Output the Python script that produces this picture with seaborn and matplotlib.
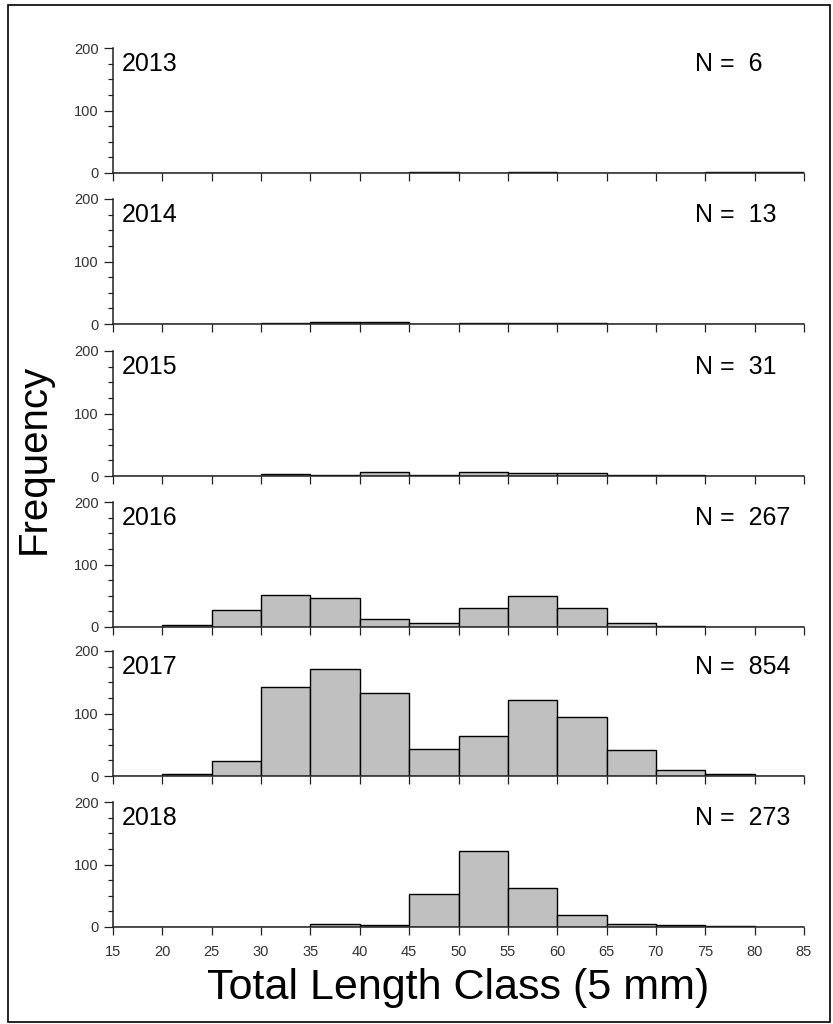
import matplotlib
matplotlib.use("Agg")
import pandas as pd
import matplotlib.pyplot as plt
import seaborn as sns
from matplotlib.patches import Rectangle
from matplotlib.ticker import MultipleLocator

# --------------------------
# Data
# --------------------------
years = [2013, 2014, 2015, 2016, 2017, 2018]
sample_sizes = [6, 13, 31, 267, 854, 273]
bin_starts = [15, 20, 25, 30, 35, 40, 45, 50, 55, 60, 65, 70, 75, 80]
counts_2013 = [0, 0, 0, 0, 0, 0, 1, 0, 2, 0, 0, 0, 2, 1]
counts_2014 = [0, 0, 0, 1, 4, 4, 0, 2, 1, 1, 0, 0, 0, 0]
counts_2015 = [0, 0, 0, 3, 1, 6, 2, 7, 5, 5, 1, 1, 0, 0]
counts_2016 = [0, 3, 28, 52, 47, 13, 6, 31, 49, 30, 6, 2, 0, 0]
counts_2017 = [0, 3, 24, 143, 172, 133, 43, 64, 122, 95, 42, 10, 3, 0]
counts_2018 = [0, 0, 0, 0, 5, 3, 53, 122, 62, 19, 5, 3, 1, 0]
x_ticks = [15, 20, 25, 30, 35, 40, 45, 50, 55, 60, 65, 70, 75, 80, 85]

all_counts = [counts_2013, counts_2014, counts_2015,
              counts_2016, counts_2017, counts_2018]
rows = []
for yr, cnts in zip(years, all_counts):
    for b, c in zip(bin_starts, cnts):
        rows.append({"Year": yr, "Mid": b + 2.5, "Count": c})
df = pd.DataFrame(rows)

# --------------------------
# Style
# --------------------------
sns.set_style("ticks")
plt.rcParams["font.family"] = ["Liberation Sans", "DejaVu Sans"]
plt.rcParams["text.color"] = "black"

W, H = 833, 1024
fig = plt.figure(figsize=(W / 100, H / 100), dpi=100)

# outer frame
fig.patches.append(Rectangle((8 / W, 1 - 1022 / H), 822 / W, 1017 / H,
                             transform=fig.transFigure, fill=False,
                             edgecolor="black", linewidth=1.2))

left_px, width_px = 113, 691
tops = [48, 199, 351, 502, 651, 802]
panel_h = 125

for i, (yr, n) in enumerate(zip(years, sample_sizes)):
    ax = fig.add_axes([left_px / W, 1 - (tops[i] + panel_h) / H,
                       width_px / W, panel_h / H])
    sub = df[df["Year"] == yr]
    sns.histplot(data=sub, x="Mid", weights="Count", bins=x_ticks,
                 color="#c0c0c0", edgecolor="black", linewidth=1.0,
                 alpha=1, ax=ax)
    ax.set_xlim(15, 85)
    ax.set_ylim(0, 200)
    ax.set_xlabel("")
    ax.set_ylabel("")
    ax.set_xticks(x_ticks)
    ax.set_yticks([0, 100, 200])
    ax.yaxis.set_minor_locator(MultipleLocator(25))
    for s in ["top", "right"]:
        ax.spines[s].set_visible(False)
    for s in ["left", "bottom"]:
        ax.spines[s].set_linewidth(1.1)
        ax.spines[s].set_color("#222222")
    ax.tick_params(axis="y", which="major", length=6.5, width=0.9,
                   labelsize=10.5, pad=4, colors="#222222", labelcolor="#333333")
    ax.tick_params(axis="y", which="minor", length=3.6, width=0.9,
                   colors="#222222")
    ax.tick_params(axis="x", which="major", length=6, width=0.9,
                   labelsize=10.5, pad=7, colors="#222222", labelcolor="#333333")
    if i < len(years) - 1:
        ax.tick_params(axis="x", labelbottom=False)
    ax.text(15.9, 193, str(yr), fontsize=18, ha="left", va="top", color="black")
    ax.text(74.0, 193, "N =  " + str(n), fontsize=18, ha="left", va="top",
            color="black")

fig.text(34 / W, 1 - 459 / H, "Frequency", rotation=90, fontsize=29,
         ha="center", va="center", color="black")
fig.text(458 / W, 1 - 988 / H, "Total Length Class (5 mm)", fontsize=31,
         ha="center", va="center", color="black")

fig.savefig("out.png", dpi=100)
